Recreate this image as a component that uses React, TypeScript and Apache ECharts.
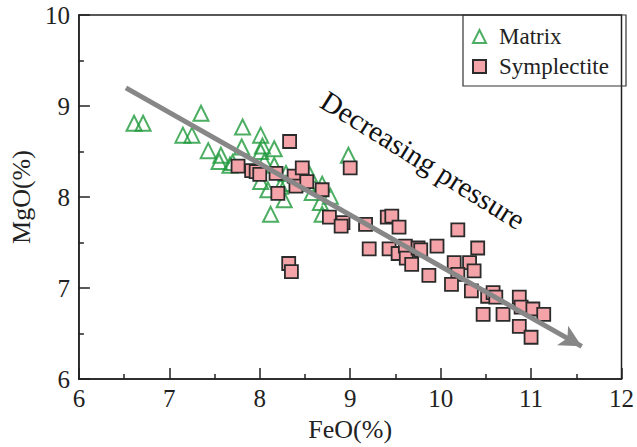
import React, { useEffect, useRef } from "react";
import * as echarts from "echarts";

const matrixFeO = [6.61, 6.71, 7.15, 7.25, 7.35, 7.43, 7.57, 7.55, 7.67, 7.70, 7.80, 7.81, 8.01, 8.01, 8.03, 8.16, 8.05, 8.16, 8.29, 8.01, 8.09, 8.23, 8.29, 8.27, 8.12, 8.52, 8.58, 8.69, 8.78, 8.67, 8.69, 8.98, 8.55];
const matrixMgO = [8.81, 8.81, 8.68, 8.68, 8.92, 8.51, 8.46, 8.39, 8.35, 8.38, 8.55, 8.77, 8.68, 8.50, 8.56, 8.53, 8.39, 8.35, 8.26, 8.17, 8.08, 8.12, 8.15, 7.97, 7.81, 8.15, 8.05, 8.14, 8.01, 7.94, 7.81, 8.46, 8.25];

const sympFeO = [8.33, 9.00, 7.76, 7.91, 7.96, 8.00, 8.18, 8.38, 8.47, 8.40, 8.52, 8.20, 8.69, 8.77, 8.92, 8.90, 9.17, 9.41, 9.46, 9.54, 9.21, 9.43, 9.53, 9.61, 9.62, 9.68, 9.75, 9.78, 9.96, 9.87, 8.32, 8.35, 10.19, 10.41, 10.15, 10.32, 10.37, 10.19, 10.12, 10.34, 10.52, 10.58, 10.61, 10.47, 10.69, 10.87, 10.89, 11.02, 11.14, 10.87, 11.00];
const sympMgO = [8.61, 8.32, 8.34, 8.29, 8.28, 8.25, 8.26, 8.23, 8.32, 8.12, 8.17, 8.04, 8.08, 7.78, 7.72, 7.68, 7.70, 7.78, 7.79, 7.67, 7.43, 7.43, 7.38, 7.46, 7.33, 7.26, 7.44, 7.42, 7.46, 7.14, 7.27, 7.18, 7.64, 7.44, 7.28, 7.28, 7.19, 7.15, 7.04, 6.97, 6.91, 6.95, 6.90, 6.71, 6.71, 6.90, 6.79, 6.77, 6.71, 6.58, 6.46];

const arrowStart = [6.52, 9.2];
const arrowEnd = [11.56, 6.36];

const xTicks = [6, 7, 8, 9, 10, 11, 12];
const yTicks = [6, 7, 8, 9, 10];

const FONT = "Liberation Serif";

export default function App() {
  const ref = useRef<HTMLDivElement>(null);
  useEffect(() => {
    document.body.style.margin = "0";
    const chart = echarts.init(ref.current!, null, { renderer: "svg" });
    const axisCommon = {
      axisLine: { show: true, lineStyle: { color: "#222", width: 1.5 } },
      axisTick: { show: true, inside: true, length: 11, lineStyle: { color: "#222", width: 1.5 } },
      minorTick: { show: true, splitNumber: 2, length: 5, lineStyle: { color: "#222", width: 1.5 } },
      splitLine: { show: false },
      axisLabel: { color: "#222", fontFamily: FONT, fontSize: 25 },
      nameTextStyle: { color: "#222", fontFamily: FONT, fontSize: 26 },
    };
    chart.setOption({
      animation: false,
      backgroundColor: "#fff",
      grid: { left: 77, right: 11, top: 15, bottom: 62, show: true, borderColor: "#222", borderWidth: 1.5 },
      legend: {
        orient: "vertical",
        left: 472,
        top: 25,
        padding: 0,
        itemGap: 7,
        itemWidth: 13,
        itemHeight: 13,
        textStyle: { color: "#222", fontFamily: FONT, fontSize: 23, padding: [0, 0, 0, 8] },
        data: ["Matrix", "Symplectite"],
      },
      xAxis: {
        type: "value",
        min: xTicks[0],
        max: xTicks[xTicks.length - 1],
        interval: 1,
        name: "FeO(%)",
        nameLocation: "middle",
        nameGap: 27,
        ...axisCommon,
        axisLabel: { ...axisCommon.axisLabel, margin: 7 },
      },
      yAxis: {
        type: "value",
        min: yTicks[0],
        max: yTicks[yTicks.length - 1],
        interval: 1,
        name: "MgO(%)",
        nameLocation: "middle",
        nameGap: 40,
        ...axisCommon,
        axisLabel: { ...axisCommon.axisLabel, margin: 9 },
      },
      graphic: [
        {
          type: "rect",
          shape: { x: 463, y: 15, width: 163, height: 71 },
          style: { fill: "rgba(255,255,255,0)", stroke: "#333", lineWidth: 1.2 },
          z: 10,
        },
        {
          type: "text",
          x: 423,
          y: 160,
          rotation: (-32 * Math.PI) / 180,
          style: {
            text: "Decreasing pressure",
            fontFamily: FONT,
            fontSize: 29,
            fill: "#111",
            align: "center",
            verticalAlign: "middle",
          },
        },
      ],
      series: [
        {
          name: "Matrix",
          type: "scatter",
          symbol: "triangle",
          symbolSize: 15,
          itemStyle: { color: "rgba(255,255,255,0)", borderColor: "#1f9a3c", borderWidth: 2 },
          data: matrixFeO.map((x, i) => [x, matrixMgO[i]]),
          z: 3,
        },
        {
          name: "Symplectite",
          type: "scatter",
          symbol: "rect",
          symbolSize: 13,
          itemStyle: { color: "#f4a3a8", borderColor: "#2b2b2b", borderWidth: 1.8, opacity: 1 },
          data: sympFeO.map((x, i) => [x, sympMgO[i]]),
          z: 4,
        },
        {
          name: "arrow",
          type: "line",
          data: [],
          z: 2,
          markLine: {
            silent: true,
            symbol: ["none", "arrow"],
            symbolSize: [17, 22],
            label: { show: false },
            lineStyle: { color: "#878787", width: 5, type: "solid" },
            data: [[{ coord: arrowStart }, { coord: arrowEnd }]],
          },
        },
      ],
    });
    return () => chart.dispose();
  }, []);
  return <div ref={ref} style={{ width: 637, height: 447, position: "absolute", left: 0, top: 0 }} />;
}
